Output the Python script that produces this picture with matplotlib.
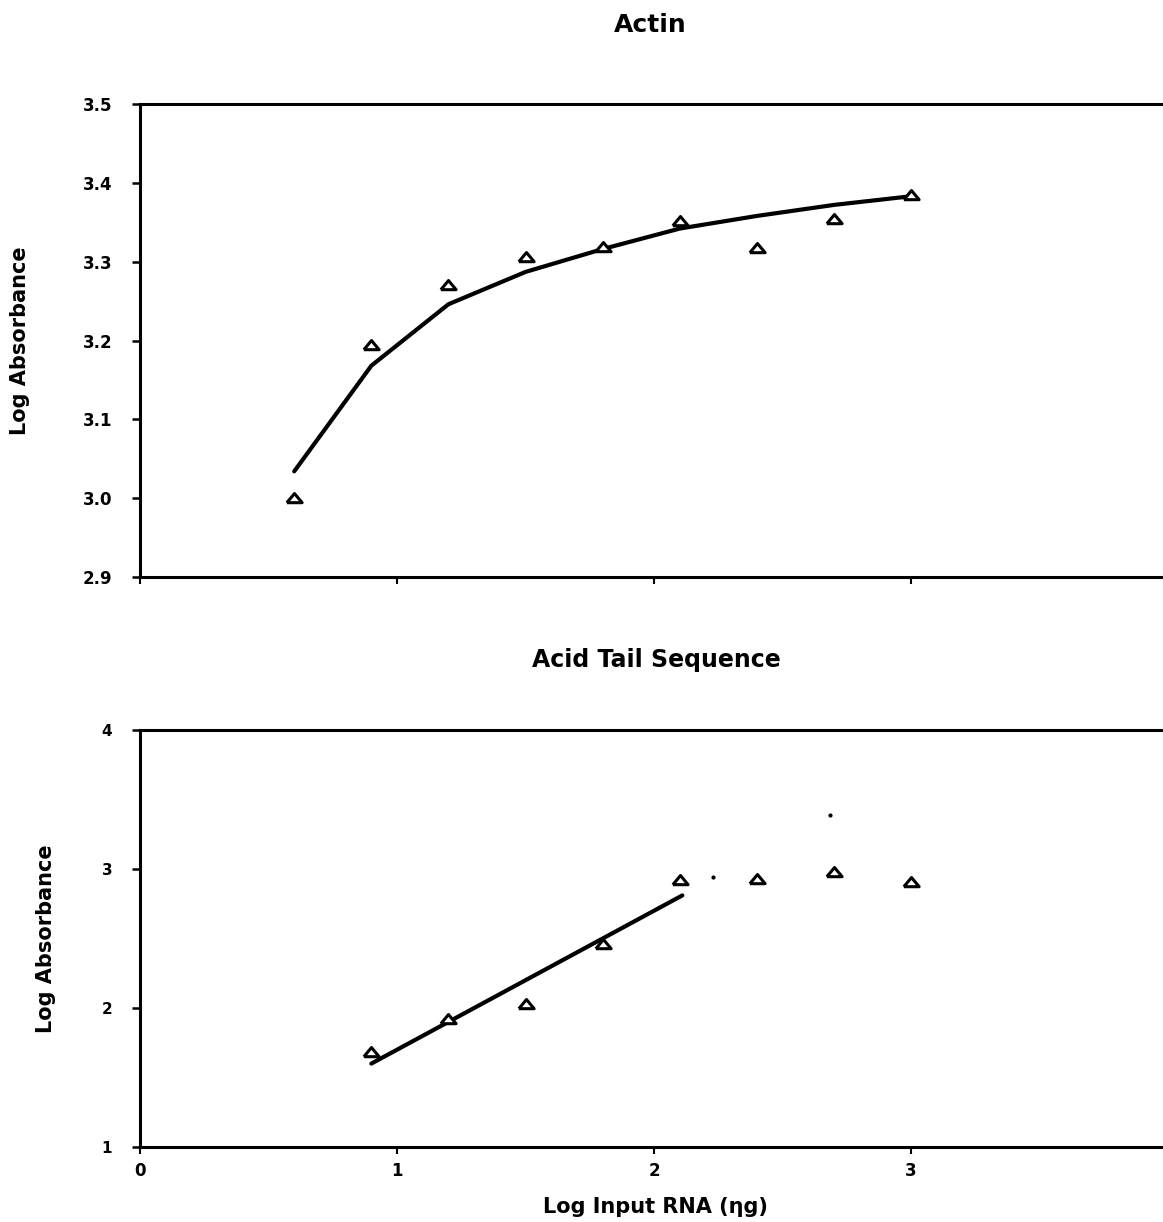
import matplotlib
matplotlib.use("Agg")
import matplotlib.pyplot as plt

# ---- data ----
actin_x = [0.6, 0.9, 1.2, 1.5, 1.8, 2.1, 2.4, 2.7, 3.0]
actin_y = [3.00, 3.194, 3.271, 3.306, 3.318, 3.352, 3.317, 3.354, 3.384]
actin_fit_x = [0.6, 0.9, 1.2, 1.5, 1.8, 2.1, 2.4, 2.7, 3.0]
actin_fit_y = [3.034, 3.168, 3.246, 3.287, 3.316, 3.342, 3.358, 3.372, 3.383]

acid_x = [0.9, 1.2, 1.5, 1.8, 2.1, 2.4, 2.7, 3.0]
acid_y = [1.68, 1.92, 2.03, 2.46, 2.92, 2.93, 2.98, 2.91]
acid_fit_x = [0.9, 2.11]
acid_fit_y = [1.60, 2.81]
speck_x = [2.23, 2.685]
speck_y = [2.945, 3.39]

actin_yticks = [2.9, 3.0, 3.1, 3.2, 3.3, 3.4, 3.5]
acid_yticks = [1, 2, 3, 4]
xticks = [0, 1, 2, 3]

plt.rcParams['font.family'] = ['DejaVu Sans']
plt.rcParams['font.weight'] = 'bold'

W, H = 1163, 1222
fig = plt.figure(figsize=(W / 100, H / 100), dpi=100)

tri = [(-1, -0.55), (1, -0.55), (0, 0.65), (-1, -0.55)]


def style(ax, ylim, yticks, yfmt, show_xlabels, ysize):
    ax.set_xlim(0, 3.98)
    ax.set_ylim(*ylim)
    ax.set_yticks(yticks)
    ax.set_yticklabels([yfmt.format(v) for v in yticks])
    ax.set_xticks(xticks)
    if show_xlabels:
        ax.set_xticklabels([str(v) for v in xticks])
    else:
        ax.set_xticklabels([])
    for s in ['left', 'top', 'bottom']:
        ax.spines[s].set_linewidth(2.2)
        ax.spines[s].set_color('black')
    ax.spines['right'].set_visible(False)
    ax.tick_params(axis='y', direction='out', length=6, width=1.8, pad=14,
                   labelsize=ysize)
    ax.tick_params(axis='x', direction='out', length=5, width=1.5, pad=6,
                   labelsize=12)
    for lab in ax.get_xticklabels() + ax.get_yticklabels():
        lab.set_fontweight('bold')


# ---- top: Actin ----
ax1 = fig.add_axes([140 / W, 1 - 577 / H, 1 - 140 / W, (577 - 104) / H])
ax1.plot(actin_fit_x, actin_fit_y, color='black', lw=3.0, solid_capstyle='round',
         zorder=2)
ax1.plot(actin_x, actin_y, linestyle='none', marker=tri, markersize=11,
         markerfacecolor='white', markeredgecolor='black', markeredgewidth=2.2,
         zorder=3)
style(ax1, (2.9, 3.5), actin_yticks, "{:.1f}", False, 12)
ax1.set_ylabel("Log Absorbance", fontsize=15, fontweight='bold', va='center')
ax1.yaxis.set_label_coords((20 - 140) / (W - 140), 0.5)

# ---- bottom: Acid Tail Sequence ----
ax2 = fig.add_axes([140 / W, 1 - 1147 / H, 1 - 140 / W, (1147 - 730) / H])
ax2.plot(acid_fit_x, acid_fit_y, color='black', lw=3.0, solid_capstyle='round',
         zorder=2)
ax2.plot(acid_x, acid_y, linestyle='none', marker=tri, markersize=11,
         markerfacecolor='white', markeredgecolor='black', markeredgewidth=2.2,
         zorder=3)
ax2.plot(speck_x, speck_y, linestyle='none', marker='o', markersize=2,
         color='black')
style(ax2, (1, 4), acid_yticks, "{:d}", True, 11)
ax2.set_ylabel("Log Absorbance", fontsize=15, fontweight='bold', va='center')
ax2.yaxis.set_label_coords((46 - 140) / (W - 140), 0.5)
ax2.set_xlabel("Log Input RNA (ηg)", fontsize=15, fontweight='bold', va='center')
ax2.xaxis.set_label_coords((655 - 140) / (W - 140), (1147 - 1207) / (1147 - 730))

fig.text(650 / W, 1 - 25 / H, "Actin", ha='center', va='center', fontsize=18,
         fontweight='bold')
fig.text(656 / W, 1 - 660 / H, "Acid Tail Sequence", ha='center', va='center',
         fontsize=17, fontweight='bold')

fig.savefig("out.png", dpi=100)
